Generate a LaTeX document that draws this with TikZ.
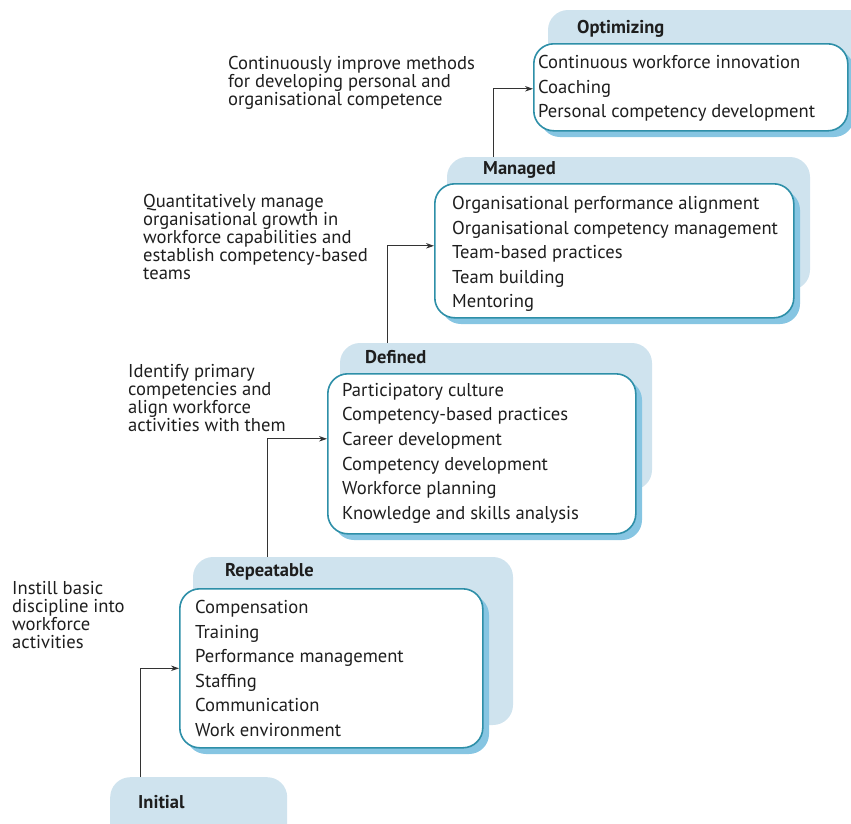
\documentclass[tikz,border=0pt]{standalone}
\usepackage{fontspec}
\setmainfont{PT Sans}
\usetikzlibrary{arrows.meta,calc}
\definecolor{bgblue}{HTML}{CFE3EE}
\definecolor{shadowblue}{HTML}{86C5E2}
\definecolor{edgeteal}{HTML}{2E8FA8}
\definecolor{txt}{HTML}{1E1E1E}
\definecolor{arrowgray}{HTML}{333333}
\begin{document}
\begin{tikzpicture}[x=1pt,y=-1pt,
  bgpanel/.style={fill=bgblue, rounded corners=20pt},
  shadowbox/.style={fill=shadowblue, rounded corners=20pt},
  stagebox/.style={draw=edgeteal, fill=white, line width=1.6pt, rounded corners=20pt, inner sep=0pt, anchor=north west},
  items/.style={text=txt, align=left, inner sep=0pt, anchor=north west, font=\fontsize{18.6}{24.6}\selectfont},
  note/.style={text=txt, align=left, inner sep=0pt, anchor=north west, font=\fontsize{18.6}{18}\selectfont},
  head/.style={text=txt, inner sep=0pt, anchor=west, font=\fontsize{18.5}{20}\selectfont\bfseries},
  arr/.style={draw=arrowgray, line width=0.9pt, -{Stealth[length=8pt,width=5.5pt]}}
]
\useasboundingbox (0,0) rectangle (851,823);

% backgrounds (header panels)
\fill[bgpanel] (548,10) rectangle (875,125);
\fill[bgpanel] (447,157) rectangle (810,290);
\fill[bgpanel] (340,343) rectangle (652,490);
\fill[bgpanel] (193,557) rectangle (513,725);
\node[bgpanel, minimum width=177pt, minimum height=80pt, anchor=north west, inner sep=0pt] (ini) at (110,777) {};

% shadows
\fill[shadowbox] (540,50) rectangle (854,137);
\fill[shadowbox] (441,190) rectangle (800,324);
\fill[shadowbox] (334,380) rectangle (642,540);
\fill[shadowbox] (186,595) rectangle (489,754);

% white boxes
\node[stagebox, minimum width=314pt, minimum height=87pt] (opt) at (533,43) {};
\node[stagebox, minimum width=359pt, minimum height=134pt] (man) at (434,183) {};
\node[stagebox, minimum width=308pt, minimum height=160pt] (def) at (327,373) {};
\node[stagebox, minimum width=303pt, minimum height=159pt] (rep) at (179,588) {};

% headers
\node[head] (hopt) at (577,29) {Optimizing};
\node[head] (hman) at (483,170) {Managed};
\node[head] (hdef) at (365,357) {Defined};
\node[head] (hrep) at (225,572) {Repeatable};
\node[head] (hini) at (138,802) {Initial};

% item lists
\node[items] (lopt) at (538,55) {Continuous workforce innovation\\Coaching\\Personal competency development};
\node[items] (lman) at (452,196) {Organisational performance alignment\\Organisational competency management\\Team-based practices\\Team building\\Mentoring};
\node[items] (ldef) at (342,383) {Participatory culture\\Competency-based practices\\Career development\\Competency development\\Workforce planning\\Knowledge and skills analysis};
\node[items] (lrep) at (195,600) {Compensation\\Training\\Performance management\\Staffing\\Communication\\Work environment};

% side notes
\node[note] (nopt) at (228,56) {Continuously improve methods\\for developing personal and\\organisational competence};
\node[note] (nman) at (143,194) {Quantitatively manage\\organisational growth in\\workforce capabilities and\\establish competency-based\\teams};
\node[note] (ndef) at (128,364) {Identify primary\\competencies and\\align workforce\\activities with them};
\node[note] (nrep) at (12,581) {Instill basic\\discipline into\\workforce\\activities};

% connectors
\coordinate (s0) at (140,777);
\coordinate (s1) at (267,557);
\coordinate (s2) at (387,343);
\coordinate (s3) at (493,157);
\draw[arr] (s0) |- (rep.west);
\draw[arr] (s1) |- ([yshift=15pt]def.west);
\draw[arr] (s2) |- ([yshift=5pt]man.west);
\draw[arr] (s3) |- ([yshift=-1.5pt]opt.west);
\end{tikzpicture}
\end{document}
